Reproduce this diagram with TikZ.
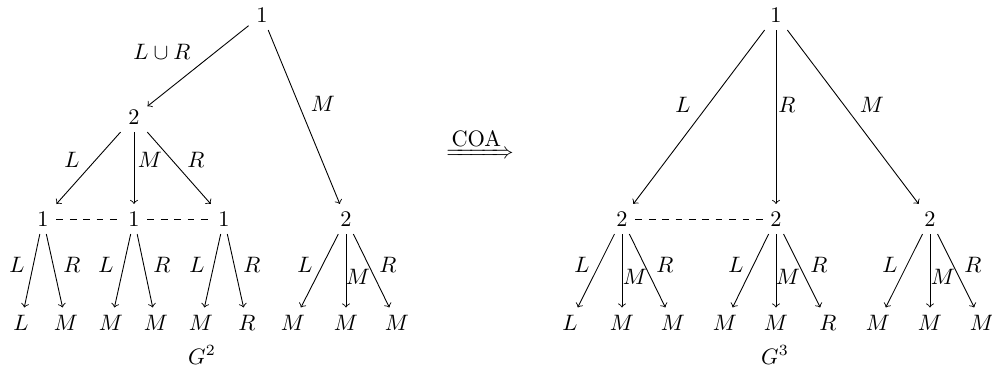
\documentclass[tikz,border=0pt]{standalone}
\usepackage{amsmath}
\usepackage{mathtools}
\begin{document}
\begin{tikzpicture}[x=0.4484pt,y=-0.4484pt,
  tn/.style={inner sep=0.3333em},
  lb/.style={inner sep=0pt},
  arr/.style={->},
  dsh/.style={dashed}]
\useasboundingbox (0,0) rectangle (992,368);
% ---------- left tree G^2 ----------
\node[tn] (r1) at (262,15) {$1$};
\node[tn] (a) at (134,117) {$2$};
\node[tn] (b1) at (43,219) {$1$};
\node[tn] (b2) at (134,219) {$1$};
\node[tn] (b3) at (224,219) {$1$};
\node[tn] (b4) at (346,219) {$2$};
\node[tn] (c1) at (21,323) {$L$};
\node[tn] (c2) at (66,323) {$M$};
\node[tn] (c3) at (111,323) {$M$};
\node[tn] (c4) at (156,323) {$M$};
\node[tn] (c5) at (201,323) {$M$};
\node[tn] (c6) at (247,323) {$R$};
\node[tn] (c7) at (293,323) {$M$};
\node[tn] (c8) at (346,323) {$M$};
\node[tn] (c9) at (397,323) {$M$};
\draw[arr] (r1) -- (a);
\draw[arr] (r1) -- (b4);
\draw[arr] (a) -- (b1);
\draw[arr] (a) -- (b2);
\draw[arr] (a) -- (b3);
\draw[arr] (b1) -- (c1);
\draw[arr] (b1) -- (c2);
\draw[arr] (b2) -- (c3);
\draw[arr] (b2) -- (c4);
\draw[arr] (b3) -- (c5);
\draw[arr] (b3) -- (c6);
\draw[arr] (b4) -- (c7);
\draw[arr] (b4) -- (c8);
\draw[arr] (b4) -- (c9);
\draw[dsh] (b1) -- (b2);
\draw[dsh] (b2) -- (b3);
\node[lb] (l1) at (162,52) {$L\cup R$};
\node[lb] (l2) at (323,104) {$M$};
\node[lb] (l3) at (72,160) {$L$};
\node[lb] (l4) at (150,160) {$M$};
\node[lb] (l5) at (196,160) {$R$};
\node[lb] (l6) at (17,265) {$L$};
\node[lb] (l7) at (72,265) {$R$};
\node[lb] (l8) at (106,265) {$L$};
\node[lb] (l9) at (162,265) {$R$};
\node[lb] (l10) at (197,265) {$L$};
\node[lb] (l11) at (252,265) {$R$};
\node[lb] (l12) at (305,265) {$L$};
\node[lb] (l13) at (358,277) {$M$};
\node[lb] (l14) at (388,265) {$R$};
\node[lb] (g2) at (202,355) {$G^2$};
% ---------- arrow ----------
\node[inner sep=0pt, anchor=base] (coa) at (480,159) {$\xRightarrow{\mbox{COA}}$};
% ---------- right tree G^3 ----------
\node[tn] (r2) at (776,15) {$1$};
\node[tn] (d1) at (622,219) {$2$};
\node[tn] (d2) at (776,219) {$2$};
\node[tn] (d3) at (930,219) {$2$};
\node[tn] (e1) at (570,323) {$L$};
\node[tn] (e2) at (622,323) {$M$};
\node[tn] (e3) at (673,323) {$M$};
\node[tn] (e4) at (725,323) {$M$};
\node[tn] (e5) at (776,323) {$M$};
\node[tn] (e6) at (828,323) {$R$};
\node[tn] (e7) at (878,323) {$M$};
\node[tn] (e8) at (930,323) {$M$};
\node[tn] (e9) at (982,323) {$M$};
\draw[arr] (r2) -- (d1);
\draw[arr] (r2) -- (d2);
\draw[arr] (r2) -- (d3);
\draw[arr] (d1) -- (e1);
\draw[arr] (d1) -- (e2);
\draw[arr] (d1) -- (e3);
\draw[arr] (d2) -- (e4);
\draw[arr] (d2) -- (e5);
\draw[arr] (d2) -- (e6);
\draw[arr] (d3) -- (e7);
\draw[arr] (d3) -- (e8);
\draw[arr] (d3) -- (e9);
\draw[dsh] (d1) -- (d2);
\node[lb] (m1) at (683,105) {$L$};
\node[lb] (m2) at (787,105) {$R$};
\node[lb] (m3) at (872,105) {$M$};
\node[lb] (m4) at (582,265) {$L$};
\node[lb] (m5) at (635,277) {$M$};
\node[lb] (m6) at (665,265) {$R$};
\node[lb] (m7) at (736,265) {$L$};
\node[lb] (m8) at (788,277) {$M$};
\node[lb] (m9) at (819,265) {$R$};
\node[lb] (m10) at (890,265) {$L$};
\node[lb] (m11) at (943,277) {$M$};
\node[lb] (m12) at (973,265) {$R$};
\node[lb] (g3) at (775,355) {$G^3$};
\end{tikzpicture}
\end{document}
